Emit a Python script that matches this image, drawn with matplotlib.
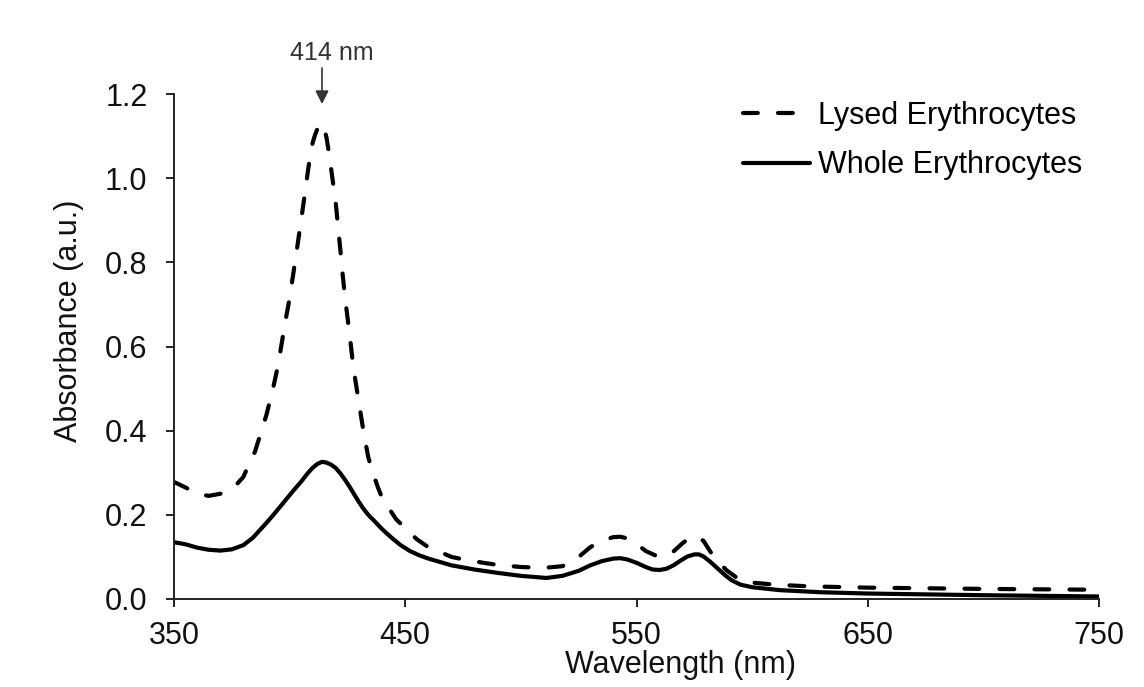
import numpy as np
import matplotlib
matplotlib.use('Agg')
import matplotlib.pyplot as plt

plt.rcParams['font.family'] = ['Liberation Sans', 'DejaVu Sans']

# Lysed erythrocytes (dashed)
lysed_nm = [350, 355, 360, 365, 370, 375, 377, 380, 382, 385, 387, 390, 393, 395,
            398, 400, 403, 406, 409, 410, 411, 412, 413, 414, 415, 416, 417, 418,
            419, 420, 421, 422, 423, 424, 425, 426, 427, 428, 430, 432, 434, 436,
            438, 440, 443, 446, 450, 455, 460, 464, 470, 477, 485, 490, 500, 510,
            518, 525, 530, 535, 540, 543, 546, 550, 554, 558, 562, 566, 570, 573,
            576, 579, 582, 585, 589, 593, 598, 610, 625, 650, 700, 750]
lysed_abs = [0.278, 0.265, 0.250, 0.245, 0.250, 0.262, 0.272, 0.290, 0.315, 0.350,
             0.385, 0.438, 0.505, 0.555, 0.655, 0.715, 0.825, 0.940, 1.060, 1.085,
             1.103, 1.117, 1.127, 1.130, 1.118, 1.095, 1.060, 1.020, 0.980, 0.938,
             0.882, 0.826, 0.767, 0.715, 0.670, 0.627, 0.577, 0.535, 0.465, 0.396,
             0.337, 0.300, 0.268, 0.240, 0.215, 0.190, 0.168, 0.142, 0.123, 0.114,
             0.100, 0.092, 0.085, 0.081, 0.076, 0.074, 0.078, 0.100, 0.123, 0.139,
             0.147, 0.148, 0.144, 0.131, 0.114, 0.104, 0.101, 0.113, 0.133, 0.145,
             0.149, 0.138, 0.112, 0.090, 0.068, 0.052, 0.040, 0.034, 0.030, 0.027,
             0.024, 0.022]

# Whole erythrocytes (solid)
whole_nm = [350, 355, 360, 365, 370, 375, 380, 384, 387, 390, 393, 396, 399, 402,
            405, 408, 410, 412, 414, 416, 418, 420, 422, 424, 426, 428, 430, 432,
            434, 436, 440, 444, 448, 452, 456, 460, 465, 470, 480, 490, 500, 511,
            518, 525, 530, 535, 540, 543, 546, 550, 554, 557, 560, 563, 566, 569,
            572, 575, 577, 579, 582, 585, 588, 591, 595, 600, 612, 630, 650, 700,
            750]
whole_abs = [0.135, 0.130, 0.122, 0.117, 0.115, 0.118, 0.128, 0.145, 0.163, 0.181,
             0.200, 0.220, 0.240, 0.260, 0.279, 0.300, 0.312, 0.321, 0.326, 0.324,
             0.319, 0.311, 0.298, 0.283, 0.266, 0.248, 0.230, 0.214, 0.200, 0.189,
             0.166, 0.146, 0.128, 0.114, 0.104, 0.096, 0.088, 0.080, 0.070, 0.062,
             0.055, 0.050, 0.055, 0.067, 0.080, 0.090, 0.096, 0.097, 0.094, 0.086,
             0.076, 0.070, 0.069, 0.072, 0.080, 0.091, 0.101, 0.106, 0.106, 0.101,
             0.088, 0.073, 0.058, 0.045, 0.034, 0.028, 0.021, 0.016, 0.013, 0.009,
             0.006]

x_ticks = [350, 450, 550, 650, 750]
y_ticks = [0.0, 0.2, 0.4, 0.6, 0.8, 1.0, 1.2]
peak_nm = 414

fig = plt.figure(figsize=(11.44, 6.87), dpi=100)
ax = fig.add_axes([174 / 1144, 1 - 599 / 687, 925 / 1144, 505 / 687])

ax.plot(lysed_nm, lysed_abs, color='black', lw=3, dashes=(3.55, 4.85),
        dash_capstyle='round', label='Lysed Erythrocytes')
ax.plot(whole_nm, whole_abs, color='black', lw=3, solid_capstyle='round',
        solid_joinstyle='round', label='Whole Erythrocytes')

ax.set_xlim(350, 750)
ax.set_ylim(0, 1.2)
ax.set_xticks(x_ticks)
ax.set_yticks(y_ticks)
ax.set_yticklabels([f'{v:.1f}' for v in y_ticks])

for side in ['top', 'right']:
    ax.spines[side].set_visible(False)
for side in ['left', 'bottom']:
    ax.spines[side].set_linewidth(1.4)
    ax.spines[side].set_color('#222222')

ax.tick_params(axis='both', direction='out', length=6, width=1.4, color='#222222',
               labelsize=22, labelcolor='#111111')
ax.tick_params(axis='y', pad=13)
ax.tick_params(axis='x', pad=10)

ax.set_xlabel('Wavelength (nm)', fontsize=22, color='#111111', va='center')
ax.set_ylabel('Absorbance (a.u.)', fontsize=22, color='#111111')
ax.yaxis.set_label_coords(-0.097, 0.55)
ax.xaxis.set_label_coords(0.548, -0.13)

# peak marker: arrow plus label (label sits a little right of the arrow)
ax.annotate('', xy=(peak_nm, 1.176), xytext=(peak_nm, 1.262),
            annotation_clip=False,
            arrowprops=dict(arrowstyle='-|>', color='#333333', lw=1.2,
                            mutation_scale=20, shrinkA=0, shrinkB=0))
ax.text(peak_nm + 4.3, 1.297, f'{peak_nm} nm', ha='center', va='center',
        fontsize=18, color='#333333', clip_on=False)

ax.legend(loc='upper left', bbox_to_anchor=(743 / 1144, 1 - 101 / 687),
          bbox_transform=fig.transFigure, frameon=False, fontsize=22,
          handlelength=2.19, handletextpad=0.26, labelspacing=0.63,
          borderpad=0, borderaxespad=0)

fig.savefig('out.png', dpi=100)
